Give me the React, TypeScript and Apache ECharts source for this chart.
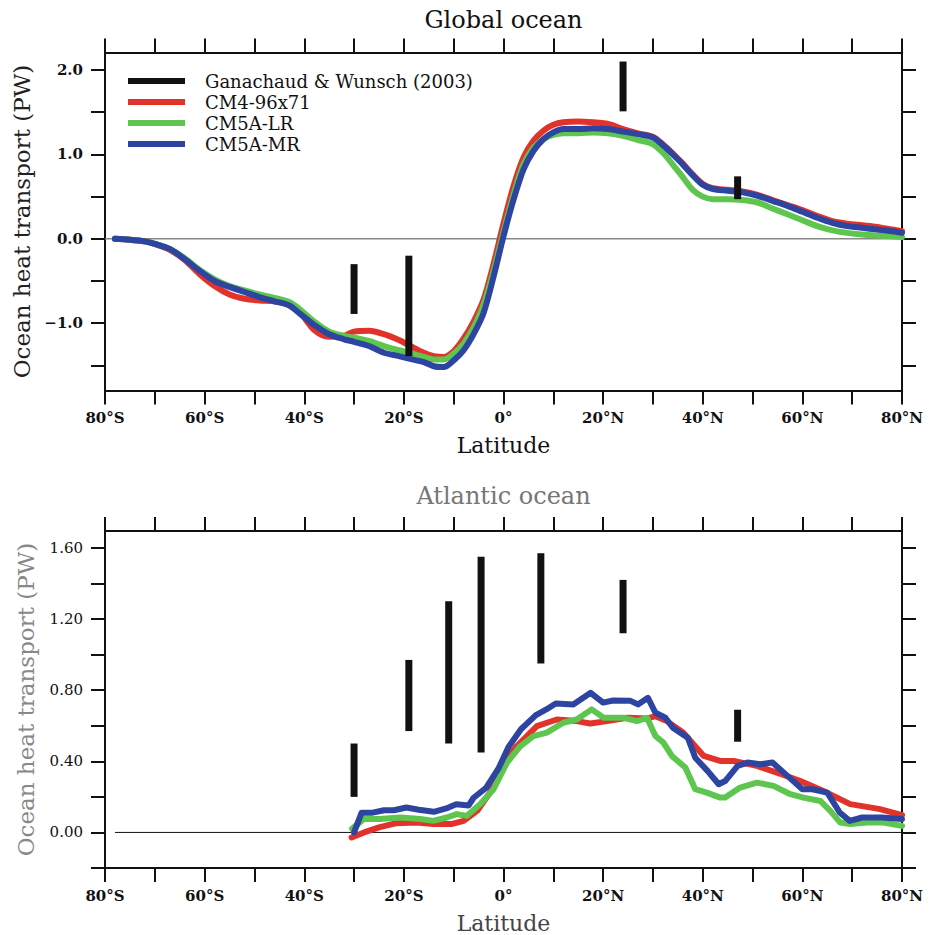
import React, { useEffect, useRef } from 'react';
import * as echarts from 'echarts';

// ---------- data ----------
const seriesNames = ['Ganachaud & Wunsch (2003)', 'CM4-96x71', 'CM5A-LR', 'CM5A-MR'];

// Global ocean
const globalLat = [-78, -75, -72, -70, -67, -64, -61, -58, -55, -52, -49, -46, -43, -41, -38, -35, -32, -30, -27, -24, -21, -19, -16, -14, -12, -10, -8, -6, -4, -2, 0, 2, 4, 6, 8, 10, 12, 15, 18, 21, 24, 27, 30, 32, 34, 36, 38, 40, 42, 45, 48, 51, 54, 57, 60, 63, 66, 69, 72, 75, 78, 80];
const globalCM4 = [0.0, -0.01, -0.03, -0.06, -0.13, -0.25, -0.42, -0.56, -0.66, -0.71, -0.73, -0.74, -0.78, -0.86, -1.08, -1.16, -1.15, -1.10, -1.09, -1.13, -1.20, -1.26, -1.35, -1.39, -1.40, -1.33, -1.18, -0.98, -0.72, -0.30, 0.18, 0.62, 0.96, 1.16, 1.28, 1.35, 1.38, 1.39, 1.38, 1.36, 1.30, 1.25, 1.21, 1.12, 1.01, 0.89, 0.76, 0.65, 0.60, 0.58, 0.56, 0.52, 0.46, 0.40, 0.34, 0.27, 0.21, 0.18, 0.16, 0.14, 0.11, 0.09];
const globalLR = [0.0, -0.01, -0.03, -0.06, -0.12, -0.23, -0.37, -0.48, -0.56, -0.61, -0.66, -0.70, -0.75, -0.83, -0.98, -1.10, -1.15, -1.17, -1.21, -1.27, -1.32, -1.35, -1.40, -1.43, -1.43, -1.36, -1.24, -1.05, -0.78, -0.38, 0.08, 0.52, 0.88, 1.08, 1.18, 1.23, 1.25, 1.25, 1.26, 1.25, 1.22, 1.17, 1.12, 1.02, 0.88, 0.73, 0.58, 0.50, 0.47, 0.47, 0.46, 0.43, 0.36, 0.29, 0.22, 0.15, 0.10, 0.07, 0.05, 0.04, 0.03, 0.02];
const globalMR = [0.0, -0.01, -0.03, -0.06, -0.12, -0.24, -0.38, -0.50, -0.57, -0.63, -0.69, -0.74, -0.79, -0.88, -1.02, -1.13, -1.19, -1.22, -1.27, -1.35, -1.39, -1.42, -1.46, -1.51, -1.52, -1.44, -1.32, -1.13, -0.88, -0.45, 0.03, 0.46, 0.82, 1.04, 1.18, 1.26, 1.30, 1.30, 1.31, 1.30, 1.27, 1.24, 1.20, 1.11, 1.00, 0.88, 0.75, 0.64, 0.59, 0.57, 0.55, 0.51, 0.45, 0.39, 0.32, 0.25, 0.19, 0.15, 0.13, 0.11, 0.09, 0.07];
const globalObsLat = [-30, -19, 24, 47];
const globalObsLow = [-0.89, -1.39, 1.51, 0.47];
const globalObsHigh = [-0.30, -0.20, 2.10, 0.74];

// Atlantic ocean
const atlLatCM4 = [-30.5, -28, -25, -21.5, -17.5, -14, -10.5, -8, -5.3, -2.7, 0, 2.7, 6.7, 10.7, 14.7, 17.4, 20.8, 24.8, 28.8, 30.5, 32.8, 36.1, 40.2, 43.5, 46.2, 50.9, 54.9, 59.6, 64.9, 69.6, 75.6, 80];
const atlCM4 = [-0.028, 0.0, 0.028, 0.052, 0.056, 0.047, 0.047, 0.065, 0.121, 0.224, 0.393, 0.486, 0.598, 0.635, 0.626, 0.613, 0.626, 0.645, 0.64, 0.654, 0.626, 0.561, 0.43, 0.402, 0.402, 0.374, 0.336, 0.289, 0.224, 0.159, 0.131, 0.097];
const atlLatLR = [-30.4, -28.1, -24.8, -20.7, -16.7, -14.1, -11.4, -9.4, -7.4, -4.7, -2, 0.7, 3.4, 6, 8.7, 12, 14.7, 17.7, 20.1, 24.1, 26.8, 28.8, 30.5, 32.1, 33.8, 36.5, 38.5, 40.8, 43.5, 44.5, 47.5, 50.9, 54.2, 57.6, 60.2, 63.6, 65.6, 67.6, 69.6, 73, 76.3, 80];
const atlLR = [0.02, 0.075, 0.075, 0.084, 0.075, 0.065, 0.084, 0.103, 0.093, 0.159, 0.243, 0.393, 0.486, 0.542, 0.561, 0.617, 0.635, 0.692, 0.645, 0.645, 0.626, 0.645, 0.542, 0.505, 0.43, 0.365, 0.243, 0.224, 0.196, 0.196, 0.252, 0.28, 0.262, 0.215, 0.196, 0.177, 0.121, 0.056, 0.047, 0.056, 0.056, 0.037];
const atlLatMR = [-30, -28.5, -26.5, -24, -22, -19.5, -17, -14, -11.5, -9.5, -7, -6, -3.5, -1, 1, 3.5, 6.5, 8.5, 10.5, 14, 17.5, 20, 22, 25.5, 27, 29, 30.5, 32.5, 34, 37, 38.5, 41, 43.2, 44.5, 47, 49, 51.5, 54, 57, 60, 62, 65, 67.5, 69.5, 72, 76, 80];
const atlMR = [0.0, 0.11, 0.11, 0.125, 0.125, 0.14, 0.128, 0.116, 0.135, 0.158, 0.152, 0.195, 0.25, 0.36, 0.48, 0.58, 0.66, 0.69, 0.725, 0.72, 0.785, 0.73, 0.742, 0.74, 0.72, 0.757, 0.673, 0.645, 0.589, 0.533, 0.42, 0.345, 0.271, 0.289, 0.374, 0.393, 0.383, 0.393, 0.318, 0.243, 0.243, 0.224, 0.112, 0.065, 0.084, 0.084, 0.075];
const atlObsLat = [-30, -19, -11, -4.5, 7.5, 24, 47];
const atlObsLow = [0.20, 0.57, 0.50, 0.45, 0.95, 1.12, 0.51];
const atlObsHigh = [0.50, 0.97, 1.30, 1.55, 1.57, 1.42, 0.69];

const latTicks = [-80, -70, -60, -50, -40, -30, -20, -10, 0, 10, 20, 30, 40, 50, 60, 70, 80];
const latLabels = [-80, -60, -40, -20, 0, 20, 40, 60, 80];
const globalYTicks = [-1.5, -1.0, -0.5, 0, 0.5, 1.0, 1.5, 2.0];
const globalYLabels = [-1.0, 0, 1.0, 2.0];
const atlYTicks = [-0.2, 0, 0.2, 0.4, 0.6, 0.8, 1.0, 1.2, 1.4, 1.6];
const atlYLabels = [0, 0.4, 0.8, 1.2, 1.6];

// ---------- styling ----------
const FONT = '"DejaVu Serif", serif';
const COLORS = { obs: '#111111', cm4: '#e2332a', lr: '#5ec54f', mr: '#2d44a1' };
const GRID_LEFT = 105;
const GRID_W = 797;
const GRID_H = 338;
const TOPS = [52.5, 531];

const pairs = (xs: number[], ys: number[]) => xs.map((x, i) => [x, ys[i]]);
const triples = (xs: number[], lo: number[], hi: number[]) => xs.map((x, i) => [x, lo[i], hi[i]]);
const latFmt = (v: number) => (Math.abs(v) < 1e-9 ? '0°' : v < 0 ? `${-v}°S` : `${v}°N`);

function xAxesFor(gridIndex: number, nameColor: string) {
  const line = { show: true, lineStyle: { color: '#111', width: 2 } };
  const tick = { show: true, inside: false, length: 14, customValues: latTicks, lineStyle: { color: '#111', width: 2 } };
  return [
    {
      type: 'value', gridIndex, position: 'bottom', min: -80, max: 80,
      axisLine: { ...line, onZero: false }, axisTick: tick, splitLine: { show: false },
      axisLabel: { customValues: latLabels, formatter: latFmt, margin: 20, fontFamily: FONT, fontWeight: 'bold', fontSize: 15, color: '#111' },
      name: 'Latitude', nameLocation: 'middle', nameGap: 44,
      nameTextStyle: { fontFamily: FONT, fontSize: 22, color: nameColor },
    },
    {
      type: 'value', gridIndex, position: 'top', min: -80, max: 80,
      axisLine: { ...line, onZero: false }, axisTick: tick, splitLine: { show: false },
      axisLabel: { show: false },
    },
  ];
}

function yAxesFor(gridIndex: number, min: number, max: number, ticks: number[], labels: number[], fmt: (v: number) => string, bold: boolean, nameColor: string) {
  const line = { show: true, onZero: false, lineStyle: { color: '#111', width: 2 } };
  const tick = { show: true, inside: false, length: 14, customValues: ticks, lineStyle: { color: '#111', width: 2 } };
  return [
    {
      type: 'value', gridIndex, position: 'left', min, max,
      axisLine: line, axisTick: tick, splitLine: { show: false },
      axisLabel: { customValues: labels, formatter: fmt, margin: 22, fontFamily: FONT, fontWeight: bold ? 'bold' : 'normal', fontSize: 15, color: '#111' },
      name: 'Ocean heat transport (PW)', nameLocation: 'middle', nameRotate: 90, nameGap: 68,
      nameTextStyle: { fontFamily: FONT, fontSize: 23, color: nameColor },
    },
    {
      type: 'value', gridIndex, position: 'right', min, max,
      axisLine: line, axisTick: tick, splitLine: { show: false }, axisLabel: { show: false },
    },
  ];
}

const obsRender = (params: any, api: any) => {
  const lat = api.value(0);
  const p1 = api.coord([lat, api.value(2)]);
  const p2 = api.coord([lat, api.value(1)]);
  return { type: 'rect', shape: { x: p1[0] - 3.5, y: p1[1], width: 7, height: p2[1] - p1[1] }, style: { fill: COLORS.obs } };
};

function modelLine(name: string, color: string, xi: number, yi: number, data: number[][], smooth: boolean) {
  return {
    type: 'line', name, xAxisIndex: xi, yAxisIndex: yi, data, color,
    showSymbol: false, symbol: 'none', smooth: smooth ? 0.3 : false,
    lineStyle: { color, width: 6, join: 'round', cap: 'round' }, itemStyle: { color },
  };
}

function zeroLine(xi: number, yi: number, from: number, color: string, width: number) {
  return {
    type: 'line', name: 'zero', xAxisIndex: xi, yAxisIndex: yi, data: [[from, 0], [80, 0]],
    showSymbol: false, symbol: 'none', silent: true, lineStyle: { color, width }, z: 1,
  };
}

const option: any = {
  animation: false,
  backgroundColor: '#ffffff',
  grid: TOPS.map((top) => ({ left: GRID_LEFT, top, width: GRID_W, height: GRID_H })),
  xAxis: [...xAxesFor(0, '#111'), ...xAxesFor(1, '#444')],
  yAxis: [
    ...yAxesFor(0, -1.797, 2.207, globalYTicks, globalYLabels, (v: number) => (v < 0 ? '−' : '') + Math.abs(v).toFixed(1), true, '#222'),
    ...yAxesFor(1, -0.2, 1.695, atlYTicks, atlYLabels, (v: number) => v.toFixed(2), false, '#888'),
  ],
  legend: {
    data: seriesNames,
    orient: 'vertical', left: 128, top: 70.5, padding: 0, itemGap: 0,
    itemWidth: 57, itemHeight: 6, icon: 'rect', selectedMode: false,
    textStyle: { fontFamily: FONT, fontSize: 18, lineHeight: 21, color: '#111', padding: [0, 0, 0, 15] },
  },
  graphic: [
    { type: 'text', x: GRID_LEFT + GRID_W / 2, y: 20, style: { text: 'Global ocean', font: `24px ${FONT}`, fill: '#111', align: 'center', verticalAlign: 'middle' } },
    { type: 'text', x: GRID_LEFT + GRID_W / 2, y: 496, style: { text: 'Atlantic ocean', font: `24px ${FONT}`, fill: '#777', align: 'center', verticalAlign: 'middle' } },
  ],
  series: [
    zeroLine(0, 0, -80, '#888', 1.5),
    modelLine(seriesNames[1], COLORS.cm4, 0, 0, pairs(globalLat, globalCM4), true),
    modelLine(seriesNames[2], COLORS.lr, 0, 0, pairs(globalLat, globalLR), true),
    modelLine(seriesNames[3], COLORS.mr, 0, 0, pairs(globalLat, globalMR), true),
    {
      type: 'custom', name: seriesNames[0], xAxisIndex: 0, yAxisIndex: 0, renderItem: obsRender,
      data: triples(globalObsLat, globalObsLow, globalObsHigh), encode: { x: 0, y: [1, 2] },
      itemStyle: { color: COLORS.obs }, color: COLORS.obs, z: 5,
    },
    zeroLine(2, 2, -78, '#111', 1),
    modelLine(seriesNames[1], COLORS.cm4, 2, 2, pairs(atlLatCM4, atlCM4), false),
    modelLine(seriesNames[2], COLORS.lr, 2, 2, pairs(atlLatLR, atlLR), false),
    modelLine(seriesNames[3], COLORS.mr, 2, 2, pairs(atlLatMR, atlMR), false),
    {
      type: 'custom', name: seriesNames[0], xAxisIndex: 2, yAxisIndex: 2, renderItem: obsRender,
      data: triples(atlObsLat, atlObsLow, atlObsHigh), encode: { x: 0, y: [1, 2] },
      itemStyle: { color: COLORS.obs }, color: COLORS.obs, z: 5,
    },
  ],
};

export default function App() {
  const ref = useRef<HTMLDivElement>(null);
  useEffect(() => {
    document.body.style.margin = '0';
    const chart = echarts.init(ref.current!, null, { renderer: 'svg' });
    chart.setOption(option);
    return () => chart.dispose();
  }, []);
  return <div ref={ref} style={{ width: 933, height: 935 }} />;
}
